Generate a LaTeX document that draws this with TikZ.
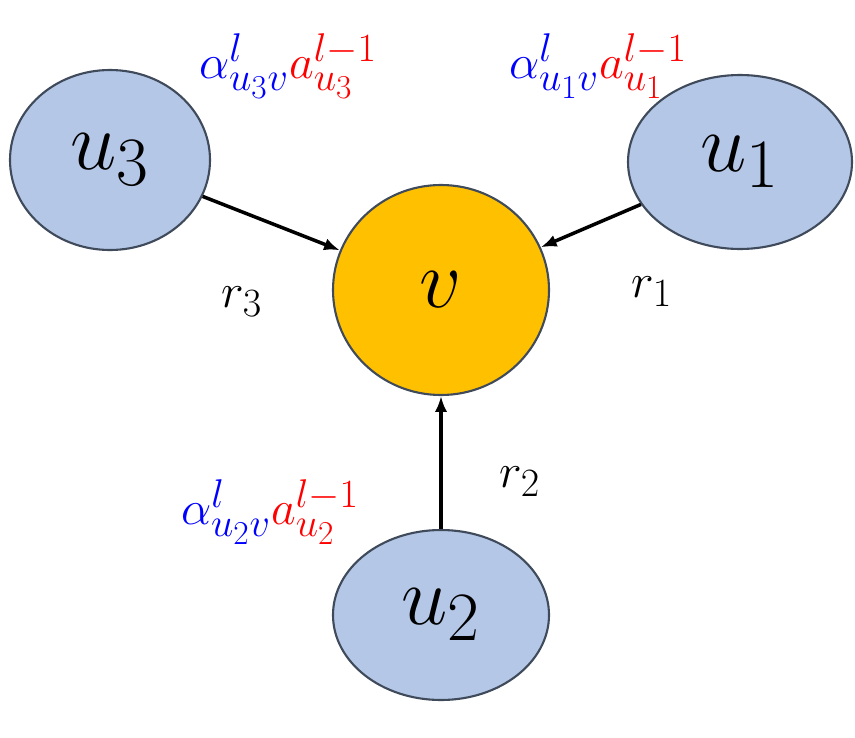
\documentclass[tikz,border=0pt]{standalone}
\usepackage{graphicx}
\usepackage{tikz}
\usetikzlibrary{arrows.meta}
\usetikzlibrary{positioning}
\usetikzlibrary{shapes.geometric}
\tikzset{>={Latex[length=9pt,width=7pt]}}
\usepackage{xcolor}
\definecolor{nodeblue}{HTML}{B4C7E7}
\definecolor{nodeorange}{HTML}{FFC000}
\definecolor{edgegray}{HTML}{3F4A5A}
\newcommand{\bigmath}[2]{\scalebox{#1}{$#2$}}
\tikzstyle{unode}=[ellipse,draw=edgegray,fill=nodeblue,line width=1.2pt,font=\Huge]
\tikzstyle{vnode}=[ellipse,draw=edgegray,fill=nodeorange,line width=1.2pt,font=\Huge]
\tikzstyle{lab}=[font=\Huge]
\tikzstyle{att}=[font=\Huge]

\begin{document}
\begin{tikzpicture}[x=0.02cm, y=-0.02cm, line width=2pt]
	\useasboundingbox (0,0) rectangle (855,737);
	\node[unode, minimum width=200*0.02cm, minimum height=180*0.02cm] (u3) at (110,160) {\bigmath{1.9}{u_3}};
	\node[unode, minimum width=224*0.02cm, minimum height=174*0.02cm] (u1) at (740,162) {\bigmath{1.9}{u_1}};
	\node[vnode, minimum width=216*0.02cm, minimum height=210*0.02cm] (v) at (441,290) {\bigmath{1.9}{v}};
	\node[unode, minimum width=216*0.02cm, minimum height=170*0.02cm] (u2) at (441,615) {\bigmath{1.9}{u_2}};
	\draw[->] (u3) -- (v);
	\draw[->] (u1) -- (v);
	\draw[->] (u2) -- (v);
	\node[lab] (r3) at (242,302) {\bigmath{1.1}{r_3}};
	\node[lab] (r1) at (652,292) {\bigmath{1.1}{r_1}};
	\node[lab] (r2) at (520,482) {\bigmath{1.1}{r_2}};
	\node[att] (a3) at (288,66) {\bigmath{1.1}{\color{blue}\alpha^{l}_{u_3v}\color{red}a^{l-1}_{u_3}}};
	\node[att] (a1) at (598,66) {\bigmath{1.1}{\color{blue}\alpha^{l}_{u_1v}\color{red}a^{l-1}_{u_1}}};
	\node[att] (a2) at (270,512) {\bigmath{1.1}{\color{blue}\alpha^{l}_{u_2v}\color{red}a^{l-1}_{u_2}}};
\end{tikzpicture}
\end{document}
